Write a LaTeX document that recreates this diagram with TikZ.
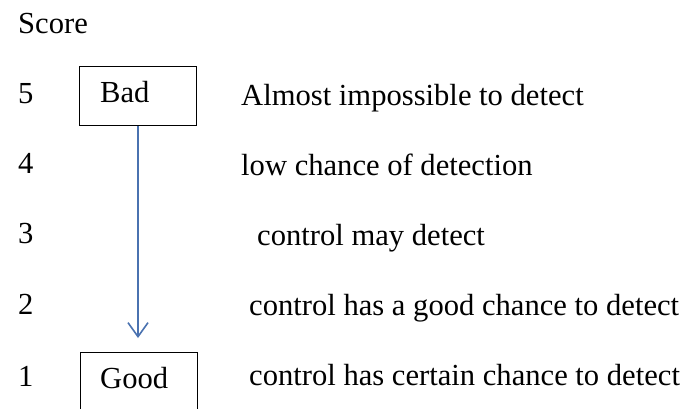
\documentclass[tikz,border=0pt]{standalone}
\usepackage{fontspec}
\setmainfont{Liberation Serif}
\usetikzlibrary{arrows.meta}
\definecolor{arrowblue}{RGB}{74,114,176}
\tikzset{
  txt/.style={anchor=base west, inner sep=0pt, font=\fontsize{30.6}{36}\selectfont},
  scorebox/.style={draw, line width=1pt, minimum width=117pt, minimum height=59pt, inner sep=0pt},
  flow/.style={draw=arrowblue, line width=1.6pt, -{Straight Barb[length=14pt,width=20pt,line width=1.6pt]}}
}
\begin{document}
\begin{tikzpicture}[x=1pt,y=-1pt]
\clip (0,0) rectangle (686,408);
\fill[white] (0,0) rectangle (686,408);
% header
\node[txt] (score) at (18,33) {Score};
% numbers
\node[txt] (n5) at (18,103) {5};
\node[txt] (n4) at (18,173) {4};
\node[txt] (n3) at (18,243) {3};
\node[txt] (n2) at (18,314) {2};
\node[txt] (n1) at (18,386) {1};
% boxes
\node[scorebox] (bad) at (138,96) {};
\node[txt] (badtxt) at (100,102) {Bad};
\node[scorebox, minimum height=64pt] (good) at (138.5,384) {};
\node[txt] (goodtxt) at (100,388) {Good};
% arrow
\coordinate (arrowend) at (138,338);
\draw[flow] (bad.south) -- (arrowend);
% descriptions
\node[txt] (d5) at (241,105) {Almost impossible to detect};
\node[txt] (d4) at (241,175) {low chance of detection};
\node[txt] (d3) at (257,245) {control may detect};
\node[txt] (d2) at (249,315) {control has a good chance to detect};
\node[txt] (d1) at (249,385) {control has certain chance to detect};
\end{tikzpicture}
\end{document}
